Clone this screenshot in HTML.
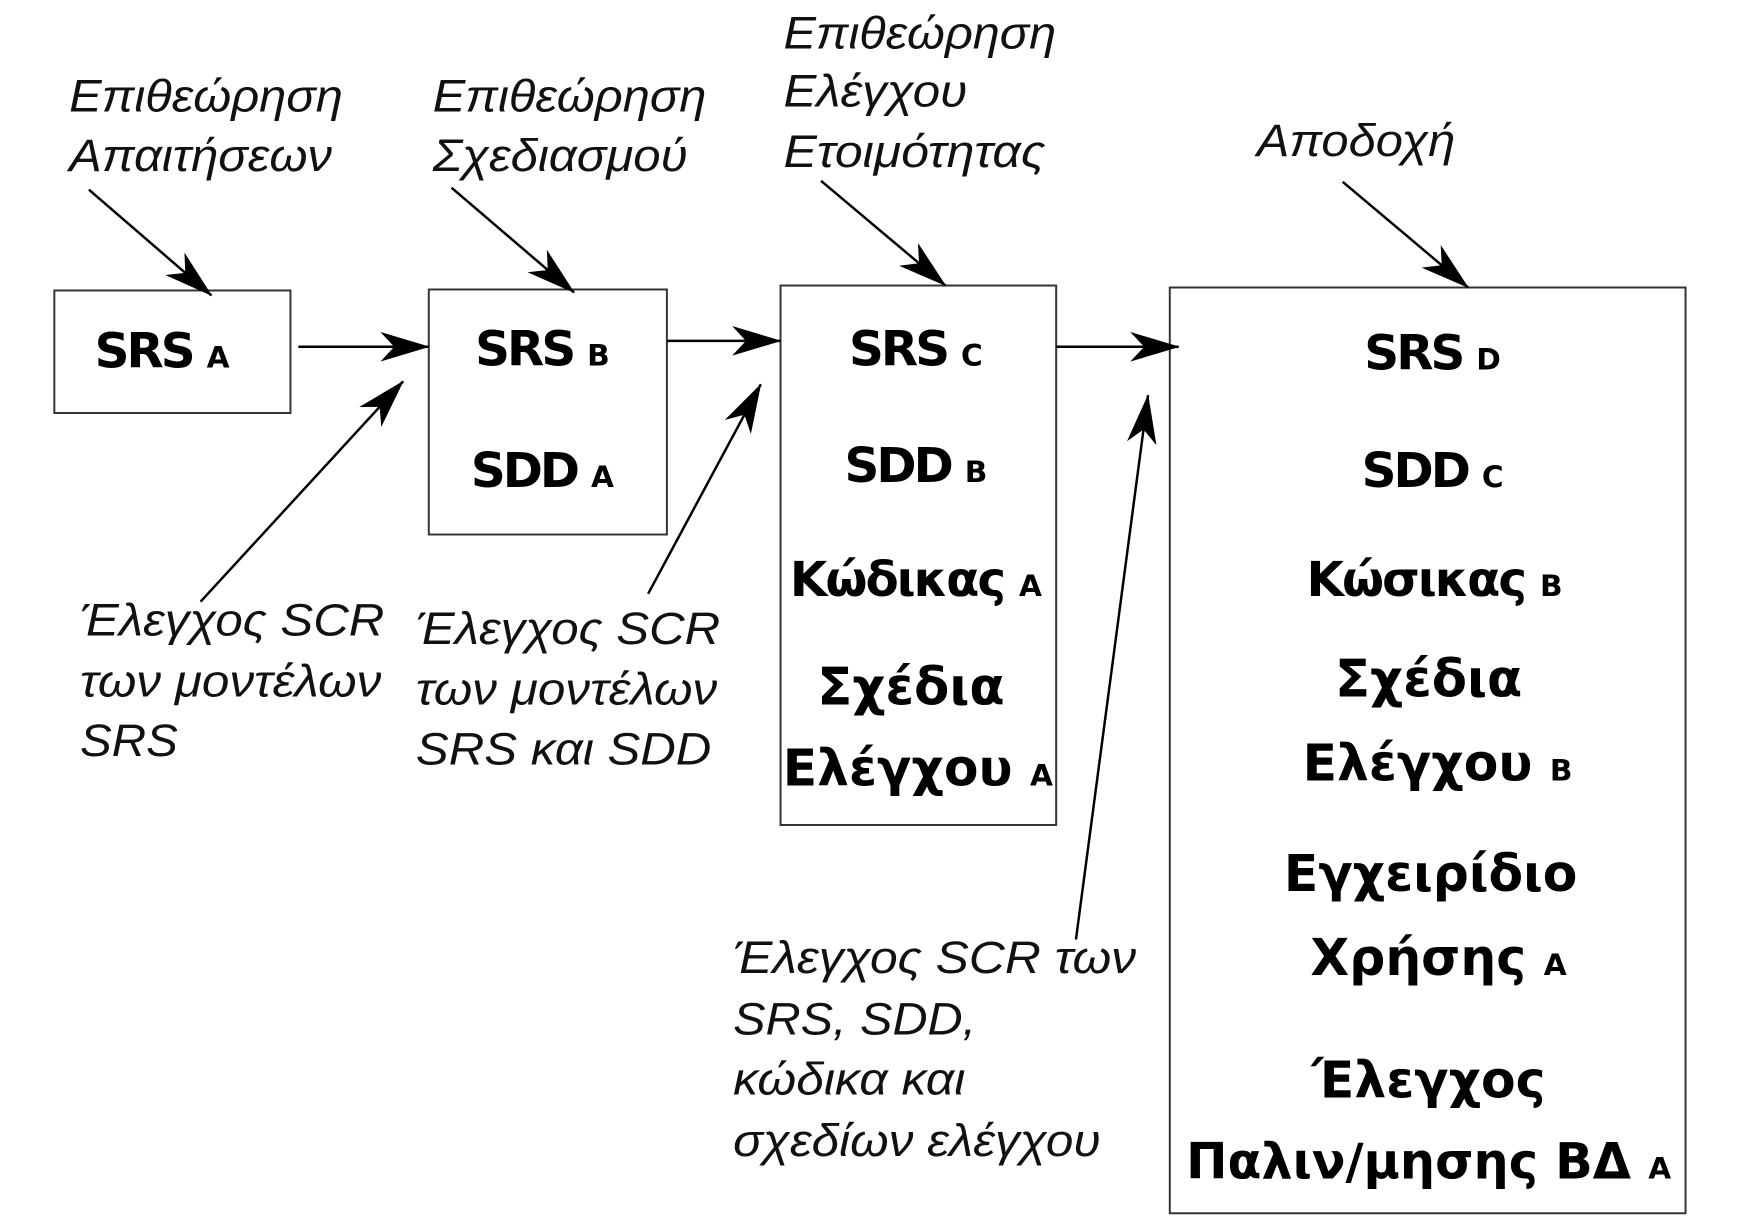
<!DOCTYPE html>
<html><head><meta charset="utf-8"><style>html,body{margin:0;padding:0;background:#fff}svg{display:block}</style></head><body>
<svg width="1748" height="1223" viewBox="0 0 1748 1223" xmlns="http://www.w3.org/2000/svg">
<defs>
<marker id="ah2" viewBox="0 0 50 30" refX="49" refY="15" markerWidth="50" markerHeight="30" markerUnits="userSpaceOnUse" orient="auto"><path d="M0,0 L50,15 L0,30 L14,15 Z" fill="#000"/></marker></defs>
<g transform="scale(0.988)">
<g fill="none" stroke="#333" stroke-width="2">
<rect x="55" y="294" width="239" height="124"/>
<rect x="434" y="293" width="241" height="248"/>
<rect x="790" y="289" width="279" height="546"/>
<rect x="1184" y="291" width="522" height="937"/>
</g>
<g stroke="#000" stroke-width="2.5" fill="none">
<line x1="90" y1="192" x2="214" y2="299" marker-end="url(#ah2)"/>
<line x1="457" y1="190" x2="581" y2="296" marker-end="url(#ah2)"/>
<line x1="831" y1="183" x2="957" y2="289" marker-end="url(#ah2)"/>
<line x1="1359" y1="184" x2="1486" y2="291" marker-end="url(#ah2)"/>
<line x1="302" y1="351" x2="434" y2="351" marker-end="url(#ah2)"/>
<line x1="675" y1="345" x2="790" y2="345" marker-end="url(#ah2)"/>
<line x1="1069" y1="351" x2="1193" y2="351" marker-end="url(#ah2)"/>
<line x1="203" y1="609" x2="408" y2="386" marker-end="url(#ah2)"/>
<line x1="656" y1="601" x2="770" y2="389" marker-end="url(#ah2)"/>
<line x1="1089" y1="951" x2="1162" y2="400" marker-end="url(#ah2)"/>
</g>
<g font-family="Liberation Sans, sans-serif" font-style="italic" font-size="46" fill="#111">
<text x="70" y="113" textLength="277" lengthAdjust="spacingAndGlyphs">Επιθεώρηση</text>
<text x="70" y="173" textLength="266" lengthAdjust="spacingAndGlyphs">Απαιτήσεων</text>
<text x="438" y="113" textLength="277" lengthAdjust="spacingAndGlyphs">Επιθεώρηση</text>
<text x="438" y="173" textLength="258" lengthAdjust="spacingAndGlyphs">Σχεδιασμού</text>
<text x="793" y="49" textLength="276" lengthAdjust="spacingAndGlyphs">Επιθεώρηση</text>
<text x="793" y="108" textLength="186" lengthAdjust="spacingAndGlyphs">Ελέγχου</text>
<text x="793" y="169" textLength="265" lengthAdjust="spacingAndGlyphs">Ετοιμότητας</text>
<text x="1272" y="158" textLength="201" lengthAdjust="spacingAndGlyphs">Αποδοχή</text>
<text x="81" y="643" textLength="308" lengthAdjust="spacingAndGlyphs">Έλεγχος SCR</text>
<text x="81" y="705" textLength="305" lengthAdjust="spacingAndGlyphs">των μοντέλων</text>
<text x="81" y="765" textLength="99" lengthAdjust="spacingAndGlyphs">SRS</text>
<text x="421" y="652" textLength="308" lengthAdjust="spacingAndGlyphs">Έλεγχος SCR</text>
<text x="421" y="713" textLength="305" lengthAdjust="spacingAndGlyphs">των μοντέλων</text>
<text x="421" y="774" textLength="299" lengthAdjust="spacingAndGlyphs">SRS και SDD</text>
<text x="742" y="985" textLength="408" lengthAdjust="spacingAndGlyphs">Έλεγχος SCR των</text>
<text x="742" y="1047" textLength="246" lengthAdjust="spacingAndGlyphs">SRS, SDD,</text>
<text x="742" y="1108" textLength="235" lengthAdjust="spacingAndGlyphs">κώδικα και</text>
<text x="742" y="1170" textLength="372" lengthAdjust="spacingAndGlyphs">σχεδίων ελέγχου</text>
</g>
<g font-family="DejaVu Sans, sans-serif" font-weight="bold" font-size="49" fill="#000" text-anchor="middle">
<text x="164" y="372" letter-spacing="-3">SRS <tspan font-size="30" letter-spacing="0">A</tspan></text>
<text x="549" y="370" letter-spacing="-3">SRS <tspan font-size="30" letter-spacing="0">B</tspan></text>
<text x="549" y="493" letter-spacing="-3">SDD <tspan font-size="30" letter-spacing="0">A</tspan></text>
<text x="927" y="370" letter-spacing="-3">SRS <tspan font-size="30" letter-spacing="0">C</tspan></text>
<text x="927" y="488" letter-spacing="-3">SDD <tspan font-size="30" letter-spacing="0">B</tspan></text>
<text x="927" y="603" letter-spacing="-2">Κώδικας <tspan font-size="30" letter-spacing="0">A</tspan></text>
<text x="922" y="713" font-size="52">Σχέδια</text>
<text x="929" y="795" font-size="51">Ελέγχου <tspan font-size="30">A</tspan></text>
<text x="1450" y="374" letter-spacing="-3">SRS <tspan font-size="30" letter-spacing="0">D</tspan></text>
<text x="1450" y="493" letter-spacing="-3">SDD <tspan font-size="30" letter-spacing="0">C</tspan></text>
<text x="1452" y="603" letter-spacing="-2">Κώσικας <tspan font-size="30" letter-spacing="0">B</tspan></text>
<text x="1446" y="705" font-size="52">Σχέδια</text>
<text x="1455" y="790" font-size="51">Ελέγχου <tspan font-size="30">B</tspan></text>
<text x="1448" y="902" font-size="51">Εγχειρίδιο</text>
<text x="1456" y="987" font-size="51">Χρήσης <tspan font-size="30">A</tspan></text>
<text x="1446" y="1111" font-size="51">Έλεγχος</text>
<text x="1446" y="1193" font-size="50">Παλιν/μησης ΒΔ <tspan font-size="30">A</tspan></text>
</g>
</g>
</svg>
</body></html>
